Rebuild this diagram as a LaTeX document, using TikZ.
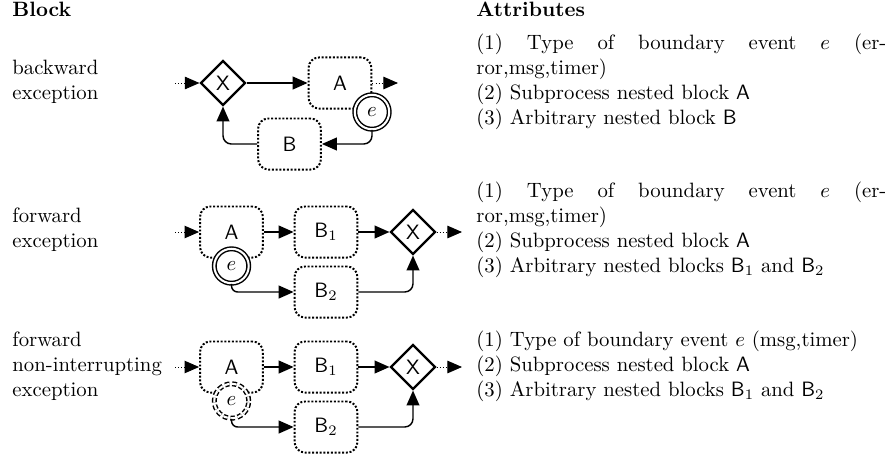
\documentclass[tikz,border=0pt]{standalone}
\usetikzlibrary{shapes.geometric,arrows.meta}
\begin{document}
\begin{tikzpicture}[x=0.482pt,y=-0.482pt,
  blk/.style={draw, line width=0.95pt, dash pattern=on 0.95pt off 0.85pt, rounded corners=5pt,
    minimum width=30.3pt, minimum height=24.6pt, inner sep=0pt, font=\sffamily},
  gate/.style={draw, diamond, line width=1.1pt, minimum width=21.6pt, minimum height=21.6pt,
    inner sep=0pt, font=\sffamily, fill=white},
  evt/.style={circle, draw, fill=white, line width=0.7pt, double, double distance=1pt,
    minimum size=16.6pt, inner sep=0pt},
  evtni/.style={evt, dash pattern=on 2.2pt off 1.3pt},
  flow/.style={line width=0.7pt, -{Triangle[length=7.2pt,width=6.2pt]}},
  lead/.style={line width=0.45pt, dash pattern=on 0.5pt off 1pt, -{Triangle[length=7pt,width=6pt]}},
  lbl/.style={anchor=base west, inner sep=0pt},
]
\useasboundingbox (0,0) rectangle (895,459);

% headers
\node[lbl, font=\bfseries] (hblock) at (12,16.5) {Block};
\node[lbl, font=\bfseries] (hattr) at (476,16.5) {Attributes};

% left labels
\node[lbl] (l1) at (12,74.5) {\parbox[t]{100pt}{\raggedright backward\\exception}};
\node[lbl] (l2) at (12,222.5) {\parbox[t]{100pt}{\raggedright forward\\exception}};
\node[lbl] (l3) at (12,346.5) {\parbox[t]{100pt}{\raggedright forward\\non-interrupting\\exception}};

% attributes
\node[lbl] (t1) at (476,49.5) {\parbox[t]{197.6pt}{\raggedright
  \makebox[197.6pt][s]{(1) Type of boundary event $e$ (er-}\\
  ror,msg,timer)\\
  (2) Subprocess nested block \textsf{A}\\
  (3) Arbitrary nested block \textsf{B}}};
\node[lbl] (t2) at (476,197.5) {\parbox[t]{197.6pt}{\raggedright
  \makebox[197.6pt][s]{(1) Type of boundary event $e$ (er-}\\
  ror,msg,timer)\\
  (2) Subprocess nested block \textsf{A}\\
  (3) Arbitrary nested blocks \textsf{B}$_1$ and \textsf{B}$_2$}};
\node[lbl] (t3) at (476,346.5) {\parbox[t]{197.6pt}{\raggedright
  (1) Type of boundary event $e$ (msg,timer)\\
  (2) Subprocess nested block \textsf{A}\\
  (3) Arbitrary nested blocks \textsf{B}$_1$ and \textsf{B}$_2$}};

% ---------- row 1: backward exception ----------
\node[gate] (g1) at (223,83) {X};
\node[blk] (a1) at (340,83) {A};
\node[blk] (b1) at (289.5,144) {B};
\node[evt] (e1) at (372,112) {$e$};
\coordinate (in1) at (175,83);
\coordinate (out1) at (398,83);
\draw[lead] (in1) -- (g1.west);
\draw[flow] (g1.east) -- (a1.west);
\draw[lead] (a1.east) -- (out1);
\draw[flow, rounded corners=4pt] (e1.south) |- (b1.east);
\draw[flow, rounded corners=4pt] (b1.west) -| (g1.south);

% ---------- row 2: forward exception ----------
\node[blk] (a2) at (231.5,232) {A};
\node[evt] (e2) at (231.5,266) {$e$};
\node[blk] (b21) at (326,232) {B$_1$};
\node[blk] (b22) at (326,292) {B$_2$};
\node[gate] (g2) at (413,232) {X};
\coordinate (in2) at (175,232);
\coordinate (out2) at (462,232);
\draw[lead] (in2) -- (a2.west);
\draw[flow] (a2.east) -- (b21.west);
\draw[flow] (b21.east) -- (g2.west);
\draw[lead] (g2.east) -- (out2);
\draw[flow, rounded corners=3pt] (e2.south) |- (b22.west);
\draw[flow, rounded corners=4pt] (b22.east) -| (g2.south);

% ---------- row 3: forward non-interrupting exception ----------
\node[blk] (a3) at (231.5,367) {A};
\node[evtni] (e3) at (231.5,401) {$e$};
\node[blk] (b31) at (326,367) {B$_1$};
\node[blk] (b32) at (326,427) {B$_2$};
\node[gate] (g3) at (413,367) {X};
\coordinate (in3) at (175,367);
\coordinate (out3) at (462,367);
\draw[lead] (in3) -- (a3.west);
\draw[flow] (a3.east) -- (b31.west);
\draw[flow] (b31.east) -- (g3.west);
\draw[lead] (g3.east) -- (out3);
\draw[flow, rounded corners=3pt] (e3.south) |- (b32.west);
\draw[flow, rounded corners=4pt] (b32.east) -| (g3.south);
\end{tikzpicture}
\end{document}
